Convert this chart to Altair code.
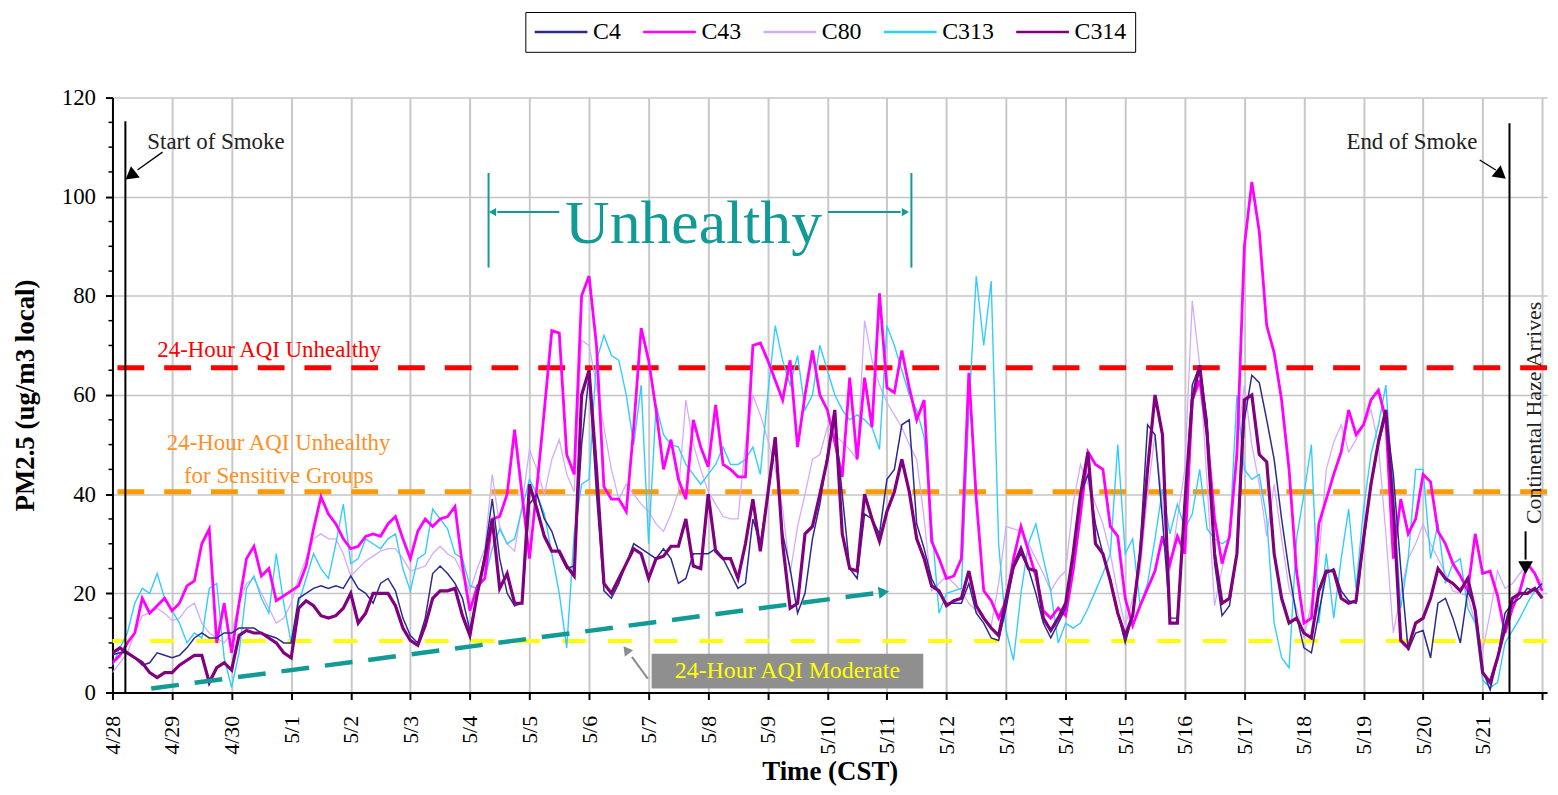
import altair as alt
import pandas as pd

# ---------------- data ----------------
TICK_LABELS = ['4/28', '4/29', '4/30', '5/1', '5/2', '5/3', '5/4', '5/5', '5/6', '5/7', '5/8',
               '5/9', '5/10', '5/11', '5/12', '5/13', '5/14', '5/15', '5/16', '5/17', '5/18',
               '5/19', '5/20', '5/21']
SERIES = ['C4', 'C43', 'C80', 'C313', 'C314']
COLORS = ['#2b2b8f', '#ff00ff', '#d4aaff', '#33ccff', '#800080']
WIDTHS = {'C4': 1.5, 'C43': 2.8, 'C80': 1.3, 'C313': 1.4, 'C314': 3.2}
DRAW_ORDER = ['C80', 'C313', 'C43', 'C4', 'C314']
STEP_HOURS = 3  # one reading every 3 hours, starting 4/28 00:00

c4 = [7.6, 8, 8, 7, 5.5, 6, 8, 7.5,
      7, 7.5, 9, 11, 12, 11, 11, 12,
      12, 13, 13, 13, 12, 11.5, 11, 10,
      10, 19, 20, 21, 21.5, 21, 21.5, 21,
      23.5, 21, 20, 18, 22, 23, 20.5, 15,
      11.5, 10, 15, 24, 25.5, 24, 22, 19,
      12.5, 20, 28, 39, 27, 20, 17.5, 18,
      38, 40, 35, 32.5, 28, 25, 25.5, 50,
      64, 40, 20.5, 19, 22, 26, 30, 29,
      28, 27, 29, 27, 22, 23, 28, 28,
      28, 29, 27, 24, 21, 22, 35, 30,
      40, 50, 32, 25, 16, 20, 31, 38,
      48, 55, 40, 25, 23, 36, 35, 32,
      43, 45, 54, 55, 34, 29, 23, 20,
      18, 18, 18, 22, 16, 14, 11, 10.5,
      17, 25, 28, 25, 20, 14, 11, 14,
      17, 27, 40, 44, 34, 28, 23, 16,
      10, 15.5, 29, 54, 52, 35, 15, 15,
      37, 62, 66, 55, 26, 15.5, 17.5, 28,
      55, 64, 62.5, 55, 47, 35, 24.5, 15.5,
      9, 8, 16, 24, 25, 20.5, 18.5, 18,
      30, 42, 50, 56, 44, 25, 8.5, 12,
      12.5, 7, 18, 19, 15, 10, 20.5, 17,
      4.5, 0.5, 7, 16, 18, 19, 21, 20.5,
      22]

c43 = [6, 7.5, 10, 12, 19, 16, 17.5, 19,
       16.5, 18, 21.5, 22.5, 30, 33, 10, 18,
       8, 18, 27, 29.5, 23.5, 25, 18.5, 19.5,
       20.5, 21.5, 25.5, 33, 39.5, 36, 34, 31,
       29, 29.5, 31.5, 32, 31.5, 34, 35.5, 31,
       27, 32.5, 35, 33.5, 35, 35.5, 37.5, 25.5,
       16.5, 21.5, 23, 35, 35.5, 40, 53, 40,
       27, 41.5, 57, 73, 72.5, 48, 44, 80,
       84, 70, 41.5, 39, 39, 36.5, 53.5, 73.5,
       67, 57, 45, 51, 43, 39, 55, 49.5,
       45.5, 58, 46, 45, 43.5, 43.5, 70, 70.5,
       67, 63, 59, 67, 49.5, 60, 69, 60,
       57, 50.5, 43.5, 63.5, 47, 63.5, 53.5, 80.5,
       61.5, 60.5, 69, 61.5, 55, 59, 30.5, 27,
       23, 23.5, 27, 64.5, 39, 20.5, 18.5, 15,
       18.5, 27, 33.5, 28.5, 23.5, 16.5, 15, 17,
       15.5, 24.5, 36, 48.5, 46, 45, 33.5, 31.5,
       19, 13.5, 17.5, 21, 24.5, 31.5, 26, 31.5,
       28, 59, 63, 52, 35, 26, 31.5, 48,
       90, 103, 93, 74, 68.5, 59, 45, 24.5,
       14, 15, 34, 39, 44, 48.5, 57, 52,
       54, 59, 61, 55, 27, 39, 32, 35,
       44, 42.5, 32.5, 30, 26, 23.5, 20.5, 32,
       24, 24.5, 19.5, 12, 17, 20.5, 26, 24,
       20.5]

c80 = [4, 6, 8, 12, 15.5, 16, 17, 16,
       14.5, 15, 17, 18, 14, 12, 11, 10,
       12, 18, 22, 23, 20, 17, 14, 15,
       18, 23, 27, 31, 32, 31, 31, 28,
       23.5, 25, 26.5, 27.5, 28.5, 29, 29, 27,
       24.5, 25, 25.5, 28, 29.5, 28, 27, 24,
       20.5, 25, 29, 44, 33.5, 30, 28.5, 38,
       49, 45, 40, 47, 51, 44, 40.5, 71,
       70, 62, 53.5, 45, 39, 42, 40, 38,
       36.5, 34, 32.5, 36, 40.5, 59, 50, 45,
       40.5, 38, 35.5, 35, 35, 50, 60, 56,
       51, 45, 37, 24, 33.5, 40, 47, 48,
       53.5, 52, 50.5, 49, 47, 75, 67, 62,
       58.5, 56, 53.5, 50, 47, 35, 20.5, 22,
       23.5, 22, 20.5, 18, 16.5, 15, 13.5, 22,
       33.5, 33, 32.5, 30, 27, 24, 20.5, 23,
       24.5, 38, 46, 42, 38, 34, 28, 20,
       13.5, 19, 24.5, 40, 52, 38, 24.5, 35,
       45, 79, 66, 42, 17.5, 25, 31.5, 50,
       62, 50, 42, 31.5, 42, 31, 21, 17,
       11, 18, 27, 45, 50.5, 54, 48.5, 51,
       54, 57, 50, 32, 12, 20, 27, 30,
       34, 30, 27, 24, 20.5, 20, 19.5, 14,
       8.5, 16, 24.5, 21, 22, 24, 26, 24,
       22]

c313 = [5.5, 9, 12, 18, 21, 20, 24, 19,
        16.5, 14, 10, 12, 11, 21, 22, 7,
        1, 8, 21, 23.5, 19, 16, 28, 18,
        10, 18, 23, 28, 25, 23, 30, 38,
        26, 27, 31, 30, 29, 31, 32, 25,
        20.5, 27, 28, 37, 35, 33, 28, 27,
        21.5, 21, 23, 29, 33, 30, 31, 37,
        43, 40, 36, 28, 20, 9, 32, 42,
        43, 67, 72, 68, 67, 60, 50, 62,
        30, 58, 52, 50, 49.5, 46, 44, 42,
        44, 46, 49.5, 46, 46, 47, 49.5, 44,
        60, 74, 67, 62, 68, 57, 60, 70,
        65, 60, 57, 55, 56, 55, 53.5, 49,
        74, 70, 65, 60, 57, 51.5, 34, 16,
        20, 20.5, 21, 57, 84, 70, 83, 30,
        12.5, 6.5, 20, 30, 34, 27, 20.5, 10,
        14, 13, 14, 17, 20.5, 24, 28, 50,
        28, 31, 17.5, 22, 31, 41, 32, 38,
        33, 36, 45, 33, 31, 30, 31, 60,
        45, 43, 44, 35, 14, 7, 5, 31,
        40, 50, 14, 28, 15, 27, 37, 21,
        37, 48, 54, 62, 40, 17, 27, 45,
        45, 27, 34, 22, 26, 27, 17, 14,
        2.5, 1, 2, 10, 12.5, 15, 18, 20.5,
        21]

c314 = [8, 9, 8, 7, 6, 4, 3, 4,
        4, 5.5, 6.5, 7.5, 7.5, 2, 5, 6,
        4.5, 11.5, 12.5, 12, 12, 11, 10, 8,
        7, 17, 18.5, 17.5, 15.5, 15, 15.5, 17,
        20, 14, 16, 20, 20, 20, 17.5, 13,
        10.5, 9.5, 13.5, 19, 20.5, 20.5, 21, 15.5,
        11.5, 20, 27, 35, 21, 24, 18, 18,
        42, 37, 31.5, 28.5, 28.5, 25.5, 23.5, 60,
        65, 45, 22, 20, 23, 26, 29, 28,
        23, 27, 27.5, 29.5, 29.5, 35, 25.5, 25,
        40, 28.5, 27, 27, 23, 30, 39, 28.5,
        40, 51.5, 30, 17, 18, 32, 33.5, 40,
        47, 57, 32, 25, 24.5, 40, 35, 30.5,
        36.5, 40.5, 47, 40.5, 31, 27, 21.5, 20.5,
        17.5, 18.5, 19, 24.5, 17.5, 15, 13, 11.5,
        19, 25.5, 29, 25, 24.5, 15, 12.5, 15,
        18, 28, 40, 48.5, 30, 28, 22.5, 16,
        11.5, 15.5, 28, 45, 60, 52, 14, 14,
        38, 59, 66, 52, 28, 18, 19, 28,
        59, 60, 48, 46.5, 28, 19, 14, 15,
        12, 11, 20.5, 24.5, 24.5, 19, 18, 18.5,
        31, 42, 50.5, 57, 37, 10.5, 9, 14,
        15, 19, 25, 23, 22, 20.5, 23, 16.5,
        4, 2, 7, 13, 19, 20, 20, 21,
        19]

AQI_LEVELS = {'unhealthy': 65.5, 'sensitive': 40.5, 'moderate': 10.4}
MINOR_TICKS = [v for v in range(5, 120, 5) if v % 20 != 0]

series_values = {'C4': c4, 'C43': c43, 'C80': c80, 'C313': c313, 'C314': c314}
rows = []
for name, vals in series_values.items():
    for i, v in enumerate(vals):
        rows.append({'day': i * STEP_HOURS / 24.0, 'pm': v, 'series': name})
df = pd.DataFrame(rows)

# ---------------- chart ----------------
SERIF = 'Liberation Serif'
TEAL = '#129a96'
XS = alt.Scale(domain=[0, 24.08], nice=False, zero=False)
YS = alt.Scale(domain=[0, 120], nice=False, zero=False)

label_expr = "datum.value < 24 ? [" + ",".join("'%s'" % t for t in TICK_LABELS) + "][datum.value] : ''"

x_axis = alt.Axis(values=list(range(25)), labelExpr=label_expr, labelAngle=270,
                  labelFont=SERIF, labelFontSize=22, labelColor='black', labelPadding=16,
                  labelOverlap=False, labelFlush=False,
                  tickSize=7, tickWidth=2, tickColor='black',
                  domainColor='black', domainWidth=2,
                  grid=True, gridColor='#c8c8c8', gridWidth=2,
                  title='Time (CST)', titleFont=SERIF, titleFontSize=27,
                  titleFontWeight='bold', titleColor='black', titlePadding=4)
y_axis = alt.Axis(values=[0, 20, 40, 60, 80, 100, 120],
                  labelFont=SERIF, labelFontSize=23, labelColor='black', labelPadding=10,
                  tickSize=7, tickWidth=2, tickColor='black',
                  domainColor='black', domainWidth=2,
                  grid=True, gridColor='#c4c4c4', gridWidth=1.5,
                  title='PM2.5 (ug/m3 local)', titleFont=SERIF, titleFontSize=27,
                  titleFontWeight='bold', titleColor='black', titlePadding=22)


def XE():
    return alt.X('day:Q', scale=XS, axis=x_axis)


def YE():
    return alt.Y('pm:Q', scale=YS, axis=y_axis)


legend = alt.Legend(orient='none', legendX=415, legendY=-86, direction='horizontal',
                    title=None, symbolType='M-1,0H4', symbolSize=450, symbolStrokeWidth=2.5,
                    labelFont=SERIF, labelFontSize=24, labelColor='black', labelOffset=36,
                    columnPadding=16, padding=8, strokeColor='black', fillColor='white')

layers = []
for name in DRAW_ORDER:
    layers.append(
        alt.Chart(df).transform_filter(alt.datum.series == name)
        .mark_line(strokeWidth=WIDTHS[name], clip=True)
        .encode(x=XE(), y=YE(),
                color=alt.Color('series:N', scale=alt.Scale(domain=SERIES, range=COLORS),
                                legend=legend))
    )


def one(**kw):
    return pd.DataFrame({k: [v] for k, v in kw.items()})


def hline(level, color, width, dash):
    return alt.Chart(one(pm=level)).mark_rule(color=color, strokeWidth=width, strokeDash=dash).encode(y=YE())


def seg(x1, y1, x2, y2, color, width, dash=None):
    kw = dict(color=color, strokeWidth=width)
    if dash:
        kw['strokeDash'] = dash
    return alt.Chart(one(day=x1, pm=y1, day2=x2, pm2=y2)).mark_rule(**kw).encode(
        x=XE(), y=YE(), x2='day2:Q', y2='pm2:Q')


def head(x, y, angle, color, size):
    return alt.Chart(one(day=x, pm=y)).mark_point(shape='triangle', filled=True, opacity=1,
                                                   color=color, size=size, angle=angle,
                                                   strokeWidth=0).encode(x=XE(), y=YE())


def label(x, y, text, color, size, align='left', angle=0, weight='normal'):
    return alt.Chart(one(day=x, pm=y)).mark_text(text=text, font=SERIF, fontSize=size, color=color,
                                                  align=align, baseline='middle', angle=angle,
                                                  fontWeight=weight).encode(x=XE(), y=YE())


# reference lines
layers.insert(0, hline(AQI_LEVELS['moderate'], '#ffff00', 4, [24, 22]))
layers.insert(0, hline(AQI_LEVELS['sensitive'], '#ff9a00', 5, [27, 20]))
layers.insert(0, hline(AQI_LEVELS['unhealthy'], '#ff0000', 5, [27, 20]))

# minor y ticks
layers.append(alt.Chart(pd.DataFrame({'pm': MINOR_TICKS})).mark_rule(color='black', strokeWidth=1.5)
              .encode(y=YE(), x=alt.value(-4), x2=alt.value(0)))

ann = [
    # start / end of smoke
    seg(0.217, 0, 0.217, 115.2, 'black', 2),
    seg(23.45, 0, 23.45, 114.8, 'black', 2),
    label(0.585, 111, 'Start of Smoke', '#222222', 23),
    seg(0.84, 109.0, 0.42, 105.4, 'black', 1.3),
    head(0.33, 104.5, 232, 'black', 210),
    label(22.91, 111, 'End of Smoke', '#222222', 23, align='right'),
    seg(22.95, 107.4, 23.22, 105.4, 'black', 1.3),
    head(23.28, 104.7, 129, 'black', 210),
    # continental haze
    label(23.86, 56.4, 'Continental Haze Arrives', '#222222', 22, align='center', angle=270),
    seg(23.72, 32.5, 23.72, 26.8, 'black', 2),
    head(23.72, 25.6, 180, 'black', 220),
    # AQI labels
    label(0.752, 69.0, '24-Hour AQI Unhealthy', '#ff0000', 23),
    label(2.79, 50.4, '24-Hour AQI Unhealthy', '#ff8f1f', 23, align='center'),
    label(2.79, 43.7, 'for Sensitive Groups', '#ff8f1f', 23, align='center'),
    # moderate box
    alt.Chart(one(day=9.05, pm=0.8, day2=13.61, pm2=7.83)).mark_rect(color='#8f8f8f').encode(
        x=XE(), y=YE(), x2='day2:Q', y2='pm2:Q'),
    label(11.33, 4.35, '24-Hour AQI Moderate', '#ffff00', 24, align='center'),
    seg(8.985, 2.81, 8.72, 7.2, '#8c8c8c', 2),
    head(8.64, 8.35, 323, '#8c8c8c', 110),
    # unhealthy bracket
    label(9.754, 94.5, 'Unhealthy', TEAL, 62, align='center'),
    seg(6.313, 85.7, 6.313, 104.8, TEAL, 2),
    seg(13.411, 85.7, 13.411, 104.8, TEAL, 2),
    seg(7.50, 96.9, 6.46, 96.9, TEAL, 2),
    head(6.40, 96.9, 270, TEAL, 70),
    seg(12.01, 96.9, 13.23, 96.9, TEAL, 2),
    head(13.29, 96.9, 90, TEAL, 70),
    # trend arrow
    seg(0.651, 0.8, 12.78, 20.0, TEAL, 4.5, dash=[28, 16]),
    head(12.92, 20.2, 82.5, TEAL, 150),
]
layers.extend(ann)

chart = alt.layer(*layers).properties(
    width=1442, height=598,
    autosize=alt.AutoSizeParams(type='none'),
    padding={'left': 105, 'top': 88, 'right': 3, 'bottom': 100},
    background='white',
).configure_view(strokeWidth=0)

chart.save('out.html', embed_options={'renderer': 'svg', 'actions': False})
